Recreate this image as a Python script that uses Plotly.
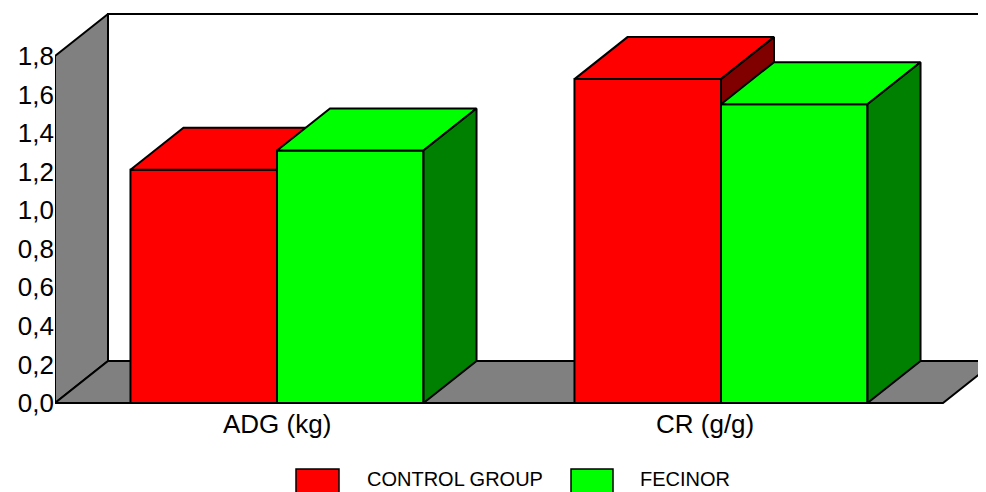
import plotly.graph_objects as go

# ---------------- data ----------------
categories = ["ADG (kg)", "CR (g/g)"]
series_names = ["CONTROL GROUP", "FECINOR"]
control_values = [1.21, 1.68]
fecinor_values = [1.31, 1.55]
y_tick_values = [0.0, 0.2, 0.4, 0.6, 0.8, 1.0, 1.2, 1.4, 1.6, 1.8]

# ---------------- styling / geometry ----------------
front_colors = ["#FF0000", "#00FF00"]
side_colors = ["#800000", "#008000"]
wall_color = "#808080"
FONT = "Liberation Sans, Arial, sans-serif"

OFF = 8                       # default page body margin
W, H = 986 - OFF, 492 - OFF   # figure size so it ends at window edge
ML, MR, MT, MB = 55 - OFF, 0, 0, 80
PX_PER_CAT = 444.0      # pixels per category slot
PX_PER_UNIT = 192.8     # pixels per y unit
Y0_PX = 403 - OFF       # pixel row of y = 0 on front plane (figure coords)
DEPTH_PX_X, DEPTH_PX_Y = 53, 42
BAR_W = 0.33
Y_TOP = y_tick_values[-1]

x_min = -0.5
x_max = x_min + (W - ML - MR) / PX_PER_CAT
y_min = -((H - MB) - Y0_PX) / PX_PER_UNIT
y_max = (Y0_PX - MT) / PX_PER_UNIT
DX = DEPTH_PX_X / PX_PER_CAT
DY = DEPTH_PX_Y / PX_PER_UNIT
x_floor_end = x_min + len(categories)

fig = go.Figure()


def poly(xs, ys, fill, lw=2):
    fig.add_trace(go.Scatter(
        x=xs + [xs[0]], y=ys + [ys[0]], mode="lines", fill="toself",
        fillcolor=fill, line=dict(color="black", width=lw),
        hoverinfo="skip", showlegend=False))


# back wall
poly([x_min + DX, x_min + DX, x_floor_end + DX + 1, x_floor_end + DX + 1],
     [DY, Y_TOP + DY, Y_TOP + DY, DY], "white")
# left wall
poly([x_min, x_min, x_min + DX, x_min + DX],
     [0, Y_TOP, Y_TOP + DY, DY], wall_color)
# floor
poly([x_min, x_floor_end, x_floor_end + DX, x_min + DX],
     [0, 0, DY, DY], wall_color)

# bars (front, top, side faces)
series_values = [control_values, fecinor_values]
for i, cat in enumerate(categories):
    for s, vals in enumerate(series_values):
        v = vals[i]
        x0 = i - BAR_W + s * BAR_W
        x1 = x0 + BAR_W
        poly([x0, x1, x1, x0], [0, 0, v, v], front_colors[s])
        poly([x0, x1, x1 + DX, x0 + DX], [v, v, v + DY, v + DY], front_colors[s])
        poly([x1, x1, x1 + DX, x1 + DX], [0, v, v + DY, DY], side_colors[s])


def px_to_paper_x(px):
    return (px - OFF - ML) / (W - ML - MR)


def px_to_paper_y(py):
    return ((H - MB) - (py - OFF)) / (H - MT - MB)


# category labels
label_shift = [0, -16]
annotations = []
for i, cat in enumerate(categories):
    annotations.append(dict(
        x=i, y=px_to_paper_y(424), xref="x", yref="paper", text=cat,
        showarrow=False, xanchor="center", yanchor="middle",
        xshift=label_shift[i],
        font=dict(family=FONT, size=26, color="black")))

# manual legend
legend_boxes = [(296, 339), (571, 613)]
legend_text_x = [365, 638]
shapes = []
for s, name in enumerate(series_names):
    bx0, bx1 = legend_boxes[s]
    shapes.append(dict(
        type="rect", xref="paper", yref="paper",
        x0=px_to_paper_x(bx0), x1=px_to_paper_x(bx1),
        y0=px_to_paper_y(495), y1=px_to_paper_y(469),
        fillcolor=front_colors[s], line=dict(color="black", width=1.5)))
    annotations.append(dict(
        x=px_to_paper_x(legend_text_x[s]), y=px_to_paper_y(479),
        xref="paper", yref="paper", text=name, showarrow=False,
        xanchor="left", yanchor="middle",
        font=dict(family=FONT, size=20, color="black")))

fig.update_layout(
    width=W, height=H,
    margin=dict(l=ML, r=MR, t=MT, b=MB),
    paper_bgcolor="white", plot_bgcolor="white",
    separators=",.",
    showlegend=False,
    xaxis=dict(range=[x_min, x_max], showgrid=False, zeroline=False,
               showticklabels=False, showline=False, fixedrange=True),
    yaxis=dict(range=[y_min, y_max], tickvals=y_tick_values, tickformat=".1f",
               showgrid=False, zeroline=False, showline=False,
               ticks="", tickfont=dict(family=FONT, size=26, color="black"),
               fixedrange=True),
    shapes=shapes,
    annotations=annotations,
)

fig.write_html("out.html")
